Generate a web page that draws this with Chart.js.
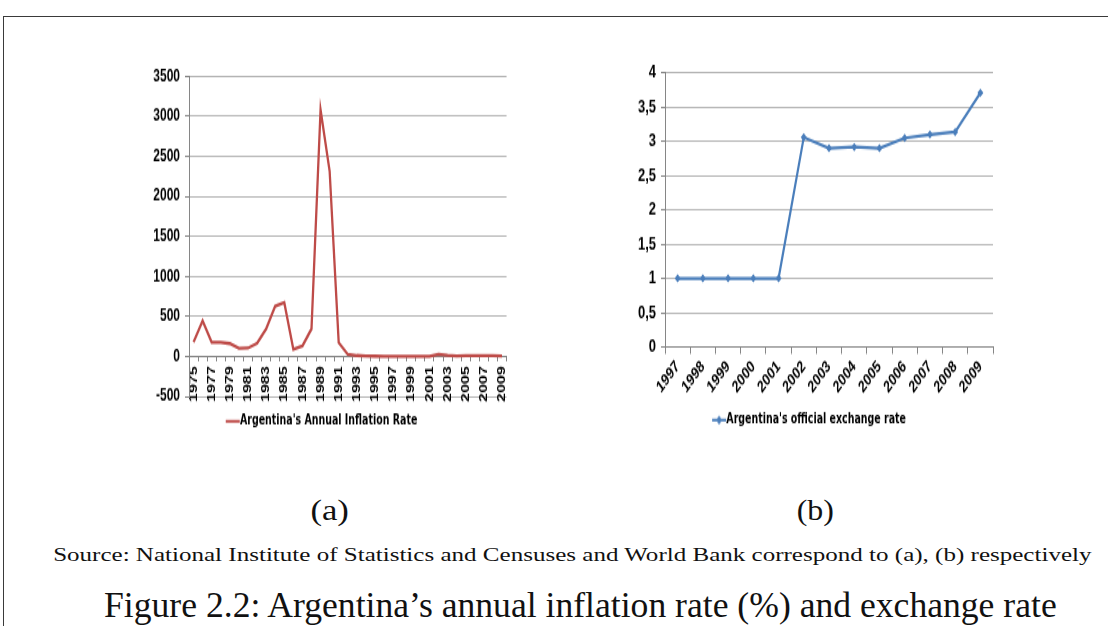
<!DOCTYPE html>
<html><head><meta charset="utf-8">
<script src="https://cdn.jsdelivr.net/npm/chart.js@4.4.0/dist/chart.umd.min.js"></script>
<style>
html,body{margin:0;padding:0;background:#fff;width:1108px;height:626px;overflow:hidden;position:relative;}
#frame{position:absolute;left:3px;top:16px;width:1200px;height:700px;border-top:1.5px solid #3a3a3a;border-left:1.5px solid #3a3a3a;}
.chart{position:absolute;transform-origin:0 0;transform:scaleY(1.4);}
.txt{position:absolute;white-space:nowrap;line-height:1;font-family:'Liberation Serif','DejaVu Serif',serif;color:#111;transform-origin:center center;}
</style></head><body>
<div id="frame"></div>
<div class="chart" style="left:130px;top:59px;width:390px;height:274px"><canvas id="ca"></canvas></div>
<div class="chart" style="left:620px;top:55px;width:390px;height:276px"><canvas id="cb"></canvas></div>
<div class="txt" data-cx="329" data-cy="510" data-w="38" style="font-size:21px">(a)</div>
<div class="txt" data-cx="815" data-cy="510" data-w="38" style="font-size:21px">(b)</div>
<div class="txt" data-cx="572" data-cy="555" data-w="1039" style="font-size:14px">Source: National Institute of Statistics and Censuses and World Bank correspond to (a), (b) respectively</div>
<div class="txt" data-cx="580" data-cy="605" data-w="953" style="font-size:25px">Figure 2.2: Argentina’s annual inflation rate (%) and exchange rate</div>
<script>
// ---- data ----
const inflationYears = ['1975','1976','1977','1978','1979','1980','1981','1982','1983','1984','1985','1986','1987','1988','1989','1990','1991','1992','1993','1994','1995','1996','1997','1998','1999','2000','2001','2002','2003','2004','2005','2006','2007','2008','2009'];
const inflationRate = [177,444,176,176,160,101,104,165,344,627,672,90,131,343,3080,2314,172,25,11,4,3,0.2,0.5,0.9,-1.2,-0.9,-1.1,26,13,4.4,9.6,10.9,8.8,8.6,6.3];
const inflationAxis = {min:-500, max:3500, step:500};
const rateYears = ['1997','1998','1999','2000','2001','2002','2003','2004','2005','2006','2007','2008','2009'];
const exchangeRate = [1,1,1,1,1,3.06,2.90,2.92,2.90,3.05,3.10,3.14,3.71];
const rateAxis = {min:0, max:4, step:0.5};
const seriesNames = ["Argentina's Annual Inflation Rate", "Argentina's official exchange rate"];

// ---- styling ----
const RED = '#BE4B48', BLUE = '#4A7EBB', AXIS = '#868686', GRID = '#B4B4B4';
const NARROW = "'DejaVu Sans Condensed','Liberation Sans',sans-serif";
const SANS = "'Liberation Sans',Arial,sans-serif";

function legendIcon(color, marker){
  const c = document.createElement('canvas'); c.width = 26; c.height = 8;
  const g = c.getContext('2d');
  g.strokeStyle = color; g.lineWidth = 2; g.beginPath(); g.moveTo(11,4); g.lineTo(25,4); g.stroke();
  if (marker){ g.fillStyle = color; g.beginPath(); g.moveTo(18,0.8); g.lineTo(21,4); g.lineTo(18,7.2); g.lineTo(15,4); g.closePath(); g.fill(); }
  return c;
}

function legendOpts(icon, pad){
  return {position:'bottom', labels:{usePointStyle:true, pointStyle:icon, pointStyleWidth:14, padding:pad,
    color:'#000', font:{family:NARROW, size:10.5, weight:'bold'}}};
}

new Chart(document.getElementById('ca'), {
  type:'line',
  data:{labels:inflationYears, datasets:[{label:seriesNames[0], data:inflationRate, borderColor:RED, backgroundColor:RED,
    borderWidth:2.3, pointRadius:0, tension:0}]},
  options:{responsive:true, maintainAspectRatio:false, animation:false, events:[],
    layout:{padding:{top:11, left:0, right:12, bottom:0}},
    plugins:{legend:legendOpts(legendIcon(RED,false),12.5), tooltip:{enabled:false}},
    scales:{
      x:{type:'category', position:{y:0}, offset:true,
        grid:{drawOnChartArea:false, drawTicks:true, tickLength:3, offset:true, color:AXIS},
        border:{display:true, color:AXIS},
        ticks:{autoSkip:false, minRotation:90, maxRotation:90, padding:4, color:'#000',
          font:{family:SANS, size:11.5, weight:'bold'},
          callback:(v,i)=> i%2===0 ? inflationYears[i] : ''}},
      y:{min:inflationAxis.min, max:inflationAxis.max,
        ticks:{stepSize:inflationAxis.step, color:'#000', padding:5, font:{family:SANS, size:12, weight:'bold'},
          callback:(v)=>String(v)},
        grid:{color:GRID, tickLength:4, tickColor:AXIS},
        border:{color:AXIS},
        afterFit:(s)=>{s.width = 59;}}
    }}
});

new Chart(document.getElementById('cb'), {
  type:'line',
  data:{labels:rateYears, datasets:[{label:seriesNames[1], data:exchangeRate, borderColor:BLUE, backgroundColor:BLUE,
    borderWidth:2.2, pointStyle:'rectRot', pointRadius:3, pointBorderWidth:0, pointBackgroundColor:BLUE, tension:0}]},
  options:{responsive:true, maintainAspectRatio:false, animation:false, events:[],
    layout:{padding:{top:5.5, left:0, right:17, bottom:0}},
    plugins:{legend:legendOpts(legendIcon(BLUE,true),9), tooltip:{enabled:false}},
    scales:{
      x:{offset:true,
        grid:{drawOnChartArea:false, drawTicks:true, tickLength:5, offset:true, color:AXIS},
        border:{display:true, color:AXIS},
        ticks:{autoSkip:false, minRotation:45, maxRotation:45, padding:2, color:'#000',
          font:{family:SANS, size:12, weight:'bold'}},
        afterFit:(s)=>{s.height = 38;}},
      y:{min:rateAxis.min, max:rateAxis.max,
        ticks:{stepSize:rateAxis.step, color:'#000', padding:5, font:{family:SANS, size:13, weight:'bold'},
          callback:(v)=>String(v).replace('.', ',')},
        grid:{color:GRID, tickLength:4, tickColor:AXIS},
        border:{color:AXIS},
        afterFit:(s)=>{s.width = 45;}}
    }}
});

function fitText(){
  document.querySelectorAll('.txt').forEach(el=>{
    el.style.transform = 'none';
    const w = el.offsetWidth, h = el.offsetHeight;
    const cx = +el.dataset.cx, cy = +el.dataset.cy, tw = +el.dataset.w;
    el.style.left = (cx - w/2) + 'px'; el.style.top = (cy - h/2) + 'px';
    el.style.transform = 'scale(' + (tw/w) + ',1.4)';
  });
}
fitText();
if (document.fonts && document.fonts.ready) document.fonts.ready.then(fitText);
</script>
</body></html>
